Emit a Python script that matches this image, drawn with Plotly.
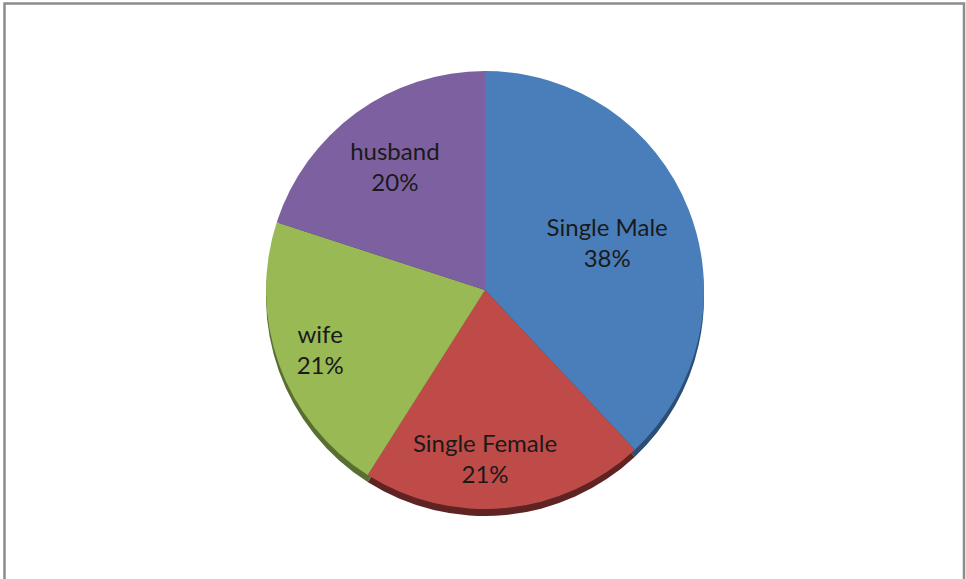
import plotly.graph_objects as go

labels = ["Single Male", "Single Female", "wife", "husband"]
values = [38, 21, 21, 20]
colors = ["#4a7ebb", "#be4b48", "#98b954", "#7d60a0"]
shadow_colors = ["#2c4d74", "#5e2322", "#5a6e32", "#4a3a60"]

W, H = 966, 579
cx, cy, r = 485, 290, 219

def dom(cx, cy, r):
    return dict(x=[(cx - r) / W, (cx + r) / W], y=[1 - (cy + r) / H, 1 - (cy - r) / H])

common = dict(labels=labels, values=values, sort=False, direction="clockwise",
              rotation=0, showlegend=False)

fig = go.Figure()
# 3D-ish bottom edge
fig.add_trace(go.Pie(
    **common,
    marker=dict(colors=shadow_colors, line=dict(width=0)),
    textinfo="none", hoverinfo="skip",
    domain=dom(cx, cy + 7, r),
))
# pie face
fig.add_trace(go.Pie(
    **common,
    marker=dict(colors=colors, line=dict(width=0)),
    textinfo="none",
    domain=dom(cx, cy, r),
))

# label layers: transparent rings so each label sits at a chosen radius
label_holes = {0.2: ["Single Male"], 0.4: ["Single Female", "husband"], 0.6: ["wife"]}
for hole, shown in label_holes.items():
    fig.add_trace(go.Pie(
        **common,
        hole=hole,
        marker=dict(colors=["rgba(0,0,0,0)"] * len(labels), line=dict(width=0)),
        texttemplate=["%{label}<br>%{percent:.0%}" if l in shown else " " for l in labels],
        textposition="inside", insidetextorientation="horizontal",
        textfont=dict(family="Lato, Open Sans, sans-serif", size=24, color="#1a1a1a"),
        hoverinfo="skip",
        domain=dom(cx, cy, r),
    ))

fig.update_layout(
    width=W, height=H,
    margin=dict(l=0, r=0, t=0, b=0),
    paper_bgcolor="white",
    uniformtext=dict(minsize=24, mode="show"),
    shapes=[dict(type="rect", xref="paper", yref="paper",
                 x0=4.5 / W, x1=964 / W, y0=-0.02, y1=1 - 3.5 / H,
                 line=dict(color="#8c8c8c", width=2.5))],
)

fig.write_html("out.html", config={"displayModeBar": False},
               post_script="document.body.style.margin='0';")
